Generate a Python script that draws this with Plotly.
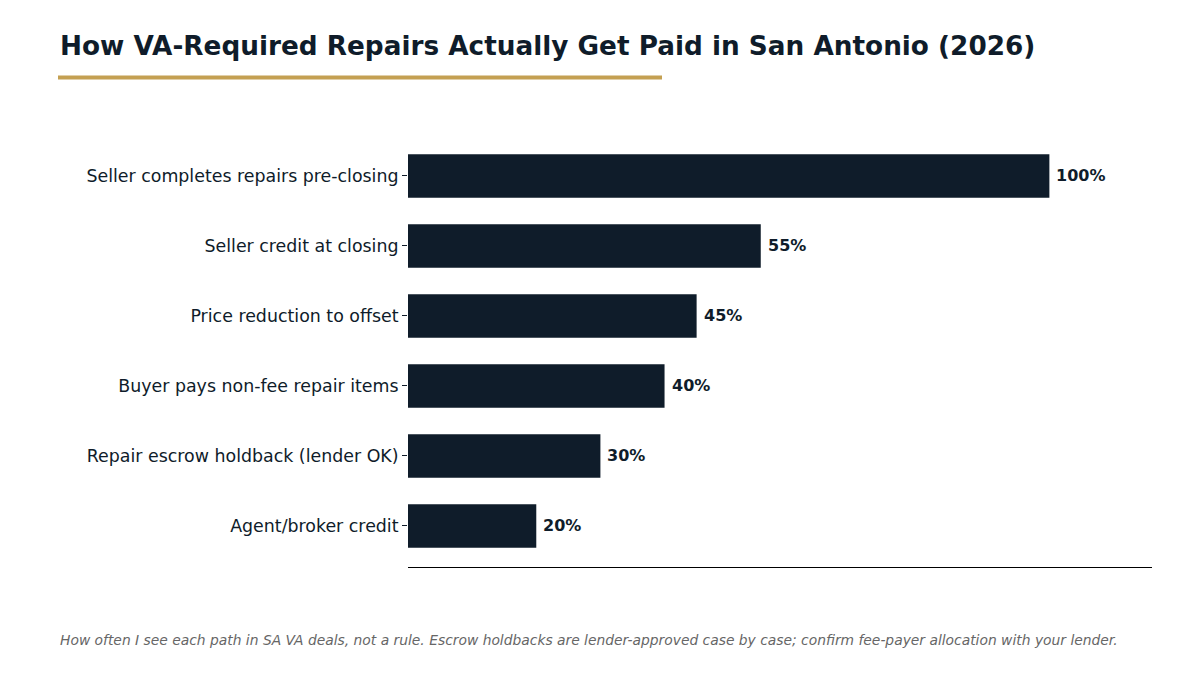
import plotly.graph_objects as go

# repair payment paths, bottom to top as drawn
paths = [
    "Agent/broker credit",
    "Repair escrow holdback (lender OK)",
    "Buyer pays non-fee repair items",
    "Price reduction to offset",
    "Seller credit at closing",
    "Seller completes repairs pre-closing",
]
share = [20, 30, 40, 45, 55, 100]
share_labels = [f"{v}%" for v in share]

navy = "#0f1c2a"
gold = "#c4a052"

# plot box in page pixels (page sits 8px in from the window edge)
L, T, W, H = 400, 122, 744, 437

fig = go.Figure()
fig.add_trace(go.Bar(
    x=share, y=paths, orientation="h",
    marker=dict(color=navy, line=dict(width=0)),
    width=0.62,
    hoverinfo="skip",
))

for p, v, lab in zip(paths, share, share_labels):
    fig.add_annotation(
        x=v, y=p, text=f"<b>{lab}</b>", showarrow=False,
        xanchor="left", xshift=5,
        font=dict(family="DejaVu Sans", size=16, color=navy),
    )

fig.update_layout(
    width=1200, height=675,
    margin=dict(l=L, r=1200 - L - W, t=T, b=675 - T - H),
    plot_bgcolor="white", paper_bgcolor="white",
    showlegend=False,
    font=dict(family="DejaVu Sans", color=navy),
)
fig.update_xaxes(
    range=[0, 116], showgrid=False, zeroline=False,
    showticklabels=False, ticks="",
    showline=True, linecolor="black", linewidth=1,
)
fig.update_yaxes(
    range=[-0.586, 5.657], showgrid=False, zeroline=False,
    ticks="outside", ticklen=5, tickcolor=navy, tickwidth=1,
    ticklabelstandoff=0,
    tickfont=dict(family="DejaVu Sans", size=17.4, color=navy),
    showline=False,
)

def px_x(x):
    return (x - 8 - L) / W

def px_y(y):
    return 1 - (y - 8 - T) / H

fig.add_annotation(
    xref="paper", yref="paper", x=px_x(60), y=px_y(46),
    text="<b>How VA-Required Repairs Actually Get Paid in San Antonio (2026)</b>",
    showarrow=False, xanchor="left", yanchor="middle", xshift=-2,
    font=dict(family="DejaVu Sans", size=26.3, color=navy),
)
fig.add_shape(
    type="line", xref="paper", yref="paper",
    x0=px_x(58), x1=px_x(662), y0=px_y(77.5), y1=px_y(77.5),
    line=dict(color=gold, width=4),
)
fig.add_annotation(
    xref="paper", yref="paper", x=px_x(60), y=px_y(640),
    text="<i>How often I see each path in SA VA deals, not a rule. Escrow holdbacks are lender-approved case by case; confirm fee-payer allocation with your lender.</i>",
    showarrow=False, xanchor="left", yanchor="middle", xshift=-2,
    font=dict(family="DejaVu Sans", size=13.85, color="#666666"),
)

fig.write_html("out.html")
